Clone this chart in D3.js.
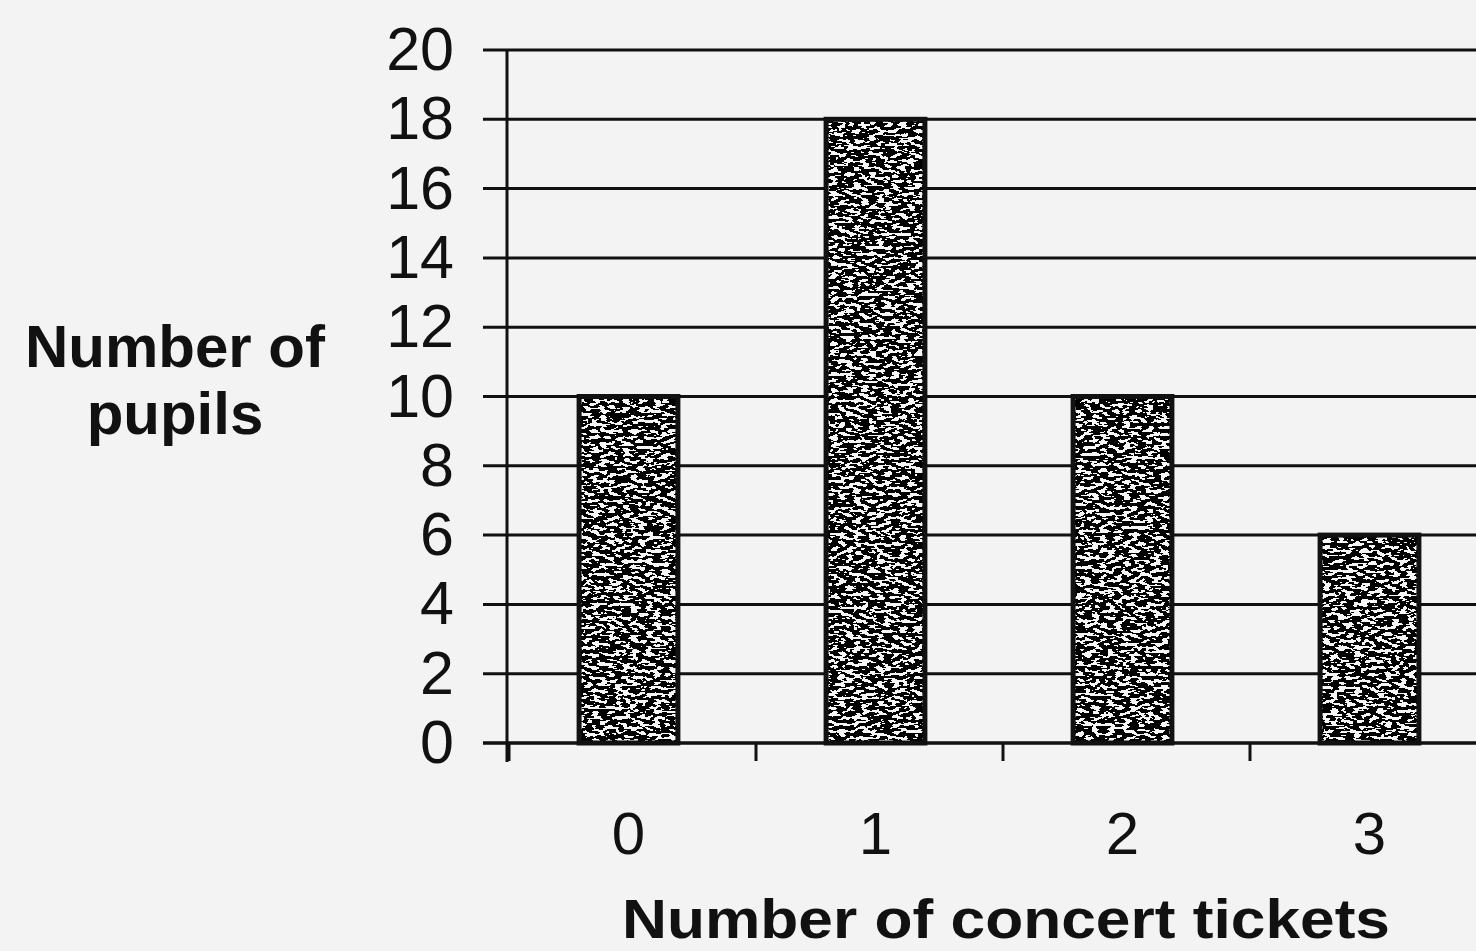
<!DOCTYPE html>
<html>
<head>
<meta charset="utf-8">
<script src="https://cdn.jsdelivr.net/npm/d3@7"></script>
<style>
  body { margin: 0; background: #f3f3f3; }
  svg { display: block; }
  text { font-family: "Liberation Sans", Arial, sans-serif; fill: #111; }
</style>
</head>
<body>
<div id="chart"></div>
<script>
// data
var categories = [0, 1, 2, 3]
var pupils = [10, 18, 10, 6]
var yTicks = [0, 2, 4, 6, 8, 10, 12, 14, 16, 18, 20]

var width = 1476, height = 951

var svg = d3.select('#chart')
    .append('svg')
    .attr('width', width)
    .attr('height', height)

svg.append('rect')
    .attr('width', width)
    .attr('height', height)
    .attr('fill', '#f3f3f3')

// speckled scan-like fill for the bars
var defs = svg.append('defs')
var f = defs.append('filter')
    .attr('id', 'speckle')
    .attr('x', 0).attr('y', 0)
    .attr('width', '100%').attr('height', '100%')
f.append('feTurbulence')
    .attr('type', 'fractalNoise')
    .attr('baseFrequency', '0.13 0.3')
    .attr('numOctaves', 2)
    .attr('seed', 7)
    .attr('result', 'noise')
f.append('feColorMatrix')
    .attr('in', 'noise')
    .attr('type', 'matrix')
    .attr('values', '0 0 0 0 0  0 0 0 0 0  0 0 0 0 0  3 0 0 0 -0.9')
    .attr('result', 'dots')
var ct = f.append('feComponentTransfer').attr('in', 'dots').attr('result', 'hard')
ct.append('feFuncA').attr('type', 'discrete').attr('tableValues', '0 1')
f.append('feComposite')
    .attr('in', 'hard')
    .attr('in2', 'SourceAlpha')
    .attr('operator', 'in')

var y = d3.scaleLinear()
    .domain([0, 20])
    .range([743, 50])

var x = d3.scaleBand()
    .domain(categories)
    .range([505, 1493])
    .padding(0)

var barW = x.bandwidth() * 0.4

// gridlines
svg.append('g')
    .selectAll('line')
    .data(yTicks)
    .enter()
    .append('line')
    .attr('x1', 483)
    .attr('x2', width + 10)
    .attr('y1', function(d) { return y(d) })
    .attr('y2', function(d) { return y(d) })
    .attr('stroke', '#111')
    .attr('stroke-width', 3)

// y axis labels
var yAxis = svg.append('g')
    .attr('transform', 'translate(505,0)')
    .call(d3.axisLeft(y).tickValues(yTicks).tickSize(0).tickPadding(51))
yAxis.select('.domain').remove()
yAxis.selectAll('text')
    .style('font-size', '61px')
    .attr('fill', '#111')

// vertical axis line
svg.append('line')
    .attr('x1', 507).attr('x2', 507)
    .attr('y1', y(20)).attr('y2', 762)
    .attr('stroke', '#111')
    .attr('stroke-width', 3)

// bars
var bars = svg.append('g')
    .selectAll('g')
    .data(pupils)
    .enter()
    .append('g')

bars.append('rect')
    .attr('x', function(d, i) { return x(categories[i]) + (x.bandwidth() - barW) / 2 })
    .attr('y', function(d) { return y(d) })
    .attr('width', barW)
    .attr('height', function(d) { return y(0) - y(d) })
    .attr('fill', '#f6f6f6')

bars.append('rect')
    .attr('x', function(d, i) { return x(categories[i]) + (x.bandwidth() - barW) / 2 })
    .attr('y', function(d) { return y(d) })
    .attr('width', barW)
    .attr('height', function(d) { return y(0) - y(d) })
    .attr('fill', '#000')
    .attr('filter', 'url(#speckle)')

bars.append('rect')
    .attr('x', function(d, i) { return x(categories[i]) + (x.bandwidth() - barW) / 2 })
    .attr('y', function(d) { return y(d) })
    .attr('width', barW)
    .attr('height', function(d) { return y(0) - y(d) })
    .attr('fill', 'none')
    .attr('stroke', '#111')
    .attr('stroke-width', 5)

// x axis line and ticks at band edges
svg.append('line')
    .attr('x1', 483).attr('x2', width + 10)
    .attr('y1', y(0)).attr('y2', y(0))
    .attr('stroke', '#111')
    .attr('stroke-width', 3)

svg.append('g')
    .selectAll('line')
    .data(categories)
    .enter()
    .append('line')
    .attr('x1', function(d) { return x(d) + 4 })
    .attr('x2', function(d) { return x(d) + 4 })
    .attr('y1', y(0))
    .attr('y2', y(0) + 18)
    .attr('stroke', '#111')
    .attr('stroke-width', 3)

var xAxis = svg.append('g')
    .attr('transform', 'translate(0,' + y(0) + ')')
    .call(d3.axisBottom(x).tickSize(0).tickPadding(68))
xAxis.select('.domain').remove()
xAxis.selectAll('text')
    .style('font-size', '60px')
    .attr('fill', '#111')

// axis titles
svg.append('text')
    .attr('x', 1006)
    .attr('y', 938)
    .attr('text-anchor', 'middle')
    .style('font-size', '55px')
    .style('font-weight', 'bold')
    .attr('textLength', 768)
    .attr('lengthAdjust', 'spacingAndGlyphs')
    .text('Number of concert tickets')

var yTitle = svg.append('text')
    .attr('text-anchor', 'middle')
    .style('font-size', '60px')
    .style('font-weight', 'bold')
yTitle.append('tspan').attr('x', 175).attr('y', 367).text('Number of')
yTitle.append('tspan').attr('x', 175).attr('y', 434).text('pupils')
</script>
</body>
</html>
